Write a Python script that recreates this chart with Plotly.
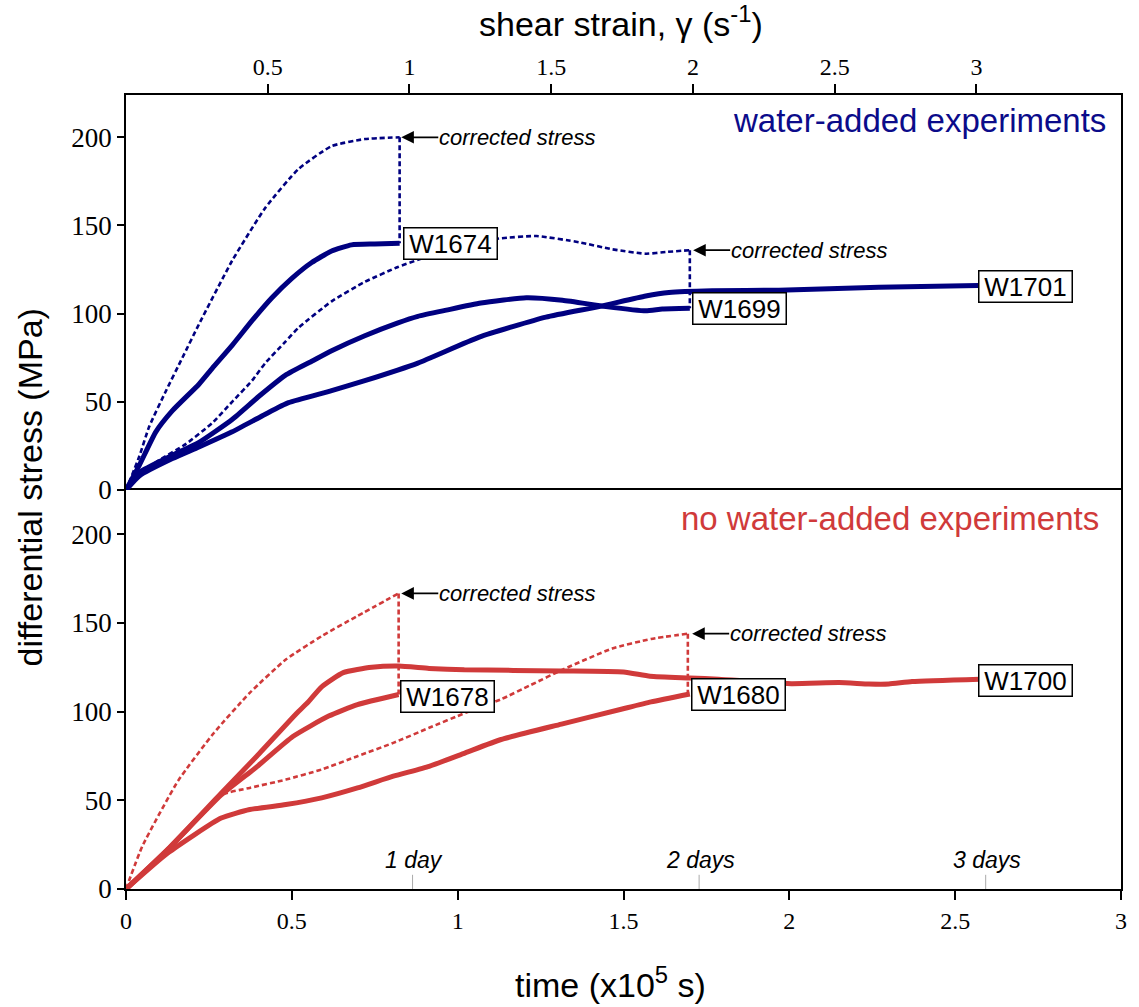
import plotly.graph_objects as go

# ---------------- data (time in 1e5 s, stress in MPa) ----------------
# water-added experiments (top panel)
t_w1674 = [0, 0.04, 0.09, 0.14, 0.22, 0.26, 0.32, 0.38, 0.44, 0.50, 0.56, 0.62, 0.68, 0.75, 0.825]
s_w1674 = [0, 14, 33, 45, 60, 69, 82, 96, 109, 120, 129, 135.5, 139, 139.5, 140]

t_w1674_corr = [0, 0.04, 0.07, 0.12, 0.17, 0.22, 0.32, 0.42, 0.52, 0.62, 0.72, 0.825, 0.825]
s_w1674_corr = [0, 19, 36, 56, 75, 94, 130, 160, 182, 195, 199, 200, 140]

t_w1699 = [0, 0.04, 0.14, 0.22, 0.32, 0.40, 0.48, 0.56, 0.62, 0.72, 0.82, 0.88, 0.966, 1.07, 1.207, 1.316, 1.447, 1.567, 1.617, 1.70]
s_w1699 = [0, 10, 19.7, 27, 40, 53, 65, 73, 79, 87.5, 94.8, 98.5, 102, 106, 109, 107.6, 104, 101.6, 102.6, 103]

t_w1699_corr = [0, 0.04, 0.10, 0.18, 0.26, 0.32, 0.38, 0.42, 0.48, 0.52, 0.62, 0.72, 0.82, 0.88, 1.00, 1.125,
                1.237, 1.366, 1.466, 1.567, 1.63, 1.70, 1.70]
s_w1699_corr = [0, 9, 17, 26, 38, 50, 62, 72, 84, 92, 107, 118, 126.5, 130.5, 138, 142.6,
                144, 140.5, 136.5, 134, 135, 136, 103]

t_w1701 = [0, 0.04, 0.14, 0.22, 0.32, 0.42, 0.49, 0.62, 0.72, 0.88, 1.065, 1.266, 1.426, 1.567, 1.637, 1.767, 1.968, 2.27, 2.57]
s_w1701 = [0, 8, 17.8, 24.4, 33, 43, 49.5, 56.3, 62, 72, 86.7, 98, 104, 110, 112, 113, 113.3, 115, 116]

# no water-added experiments (bottom panel)
t_w1700 = [0, 0.124, 0.287, 0.395, 0.514, 0.547, 0.59, 0.655, 0.741, 0.822, 0.914, 1.02, 1.313, 1.5, 1.58,
           1.70, 1.787, 2.006, 2.15, 2.24, 2.30, 2.37, 2.575]
s_w1700 = [0, 22, 54, 75, 99, 105, 114, 122, 125, 125.7, 124.4, 123.6, 123, 122.4, 120,
           119, 118.3, 115.8, 116.4, 115.6, 115.6, 117, 118.3]

t_w1678 = [0, 0.124, 0.287, 0.395, 0.503, 0.611, 0.698, 0.822]
s_w1678 = [0, 22, 53, 69, 86, 97.5, 104, 109.7]

t_w1678_corr = [0, 0.049, 0.157, 0.265, 0.373, 0.482, 0.59, 0.698, 0.822, 0.822]
s_w1678_corr = [0, 24, 61, 88, 110.6, 129.4, 142.6, 154, 166.7, 109.7]

t_w1680 = [0, 0.124, 0.287, 0.373, 0.482, 0.59, 0.698, 0.806, 0.914, 1.023, 1.131, 1.313, 1.496, 1.583, 1.70]
s_w1680 = [0, 20, 40, 44.8, 47.6, 51.4, 57, 63.6, 69.2, 76.8, 84.3, 93, 101.5, 105.5, 110]

t_w1680_corr = [0, 0.124, 0.287, 0.373, 0.482, 0.59, 0.698, 0.806, 0.914, 1.023, 1.131, 1.22, 1.32, 1.466,
                1.583, 1.694, 1.694]
s_w1680_corr = [0, 22, 53, 57, 61.7, 67.4, 74.9, 82.4, 90.9, 99.3, 107, 115, 124, 135.6,
                141, 144, 110]

# labels
labels_top = ["W1674", "W1699", "W1701"]
labels_top_xy = [(0.834, 140), (1.706, 103), (2.57, 115.6)]
labels_bot = ["W1678", "W1680", "W1700"]
labels_bot_xy = [(0.825, 108.5), (1.703, 109.6), (2.57, 117.5)]

corr_top = [(0.83, 200), (1.71, 136)]
corr_bot = [(0.83, 166.7), (1.707, 144)]
corr_text = "corrected stress"

day_pos = [0.864, 1.728, 2.592]
day_text = ["1 day", "2 days", "3 days"]

x_ticks = [0, 0.5, 1, 1.5, 2, 2.5, 3]
x_ticktext = ["0", "0.5", "1", "1.5", "2", "2.5", "3"]
strain_ticks = [0.5, 1, 1.5, 2, 2.5, 3]
strain_ticktext = ["0.5", "1", "1.5", "2", "2.5", "3"]
y_ticks = [0, 50, 100, 150, 200]
y_ticktext = ["0", "50", "100", "150", "200"]

# ---------------- styling ----------------
BLUE = "#000080"
RED = "#d03a3a"
SANS = "Liberation Sans, Arial, sans-serif"
SERIF = "Liberation Serif, Times New Roman, serif"
SOLID_W = 5
DASH_W = 2.6
DASH = "5px,3px"

fig = go.Figure()


def add_line(t, s, color, yaxis, dashed):
    style = dict(color=color, width=DASH_W if dashed else SOLID_W,
                 dash=DASH if dashed else "solid")
    if dashed:
        # smooth curve part, then the straight vertical correction drop
        fig.add_trace(go.Scatter(x=t[:-1], y=s[:-1], mode="lines", xaxis="x", yaxis=yaxis,
                                 line=dict(shape="spline", smoothing=0.5, **style),
                                 showlegend=False, hoverinfo="skip"))
        fig.add_trace(go.Scatter(x=t[-2:], y=s[-2:], mode="lines", xaxis="x", yaxis=yaxis,
                                 line=dict(shape="linear", **style),
                                 showlegend=False, hoverinfo="skip"))
    else:
        fig.add_trace(go.Scatter(x=t, y=s, mode="lines", xaxis="x", yaxis=yaxis,
                                 line=dict(shape="spline", smoothing=0.5, **style),
                                 showlegend=False, hoverinfo="skip"))


add_line(t_w1674_corr, s_w1674_corr, BLUE, "y2", True)
add_line(t_w1699_corr, s_w1699_corr, BLUE, "y2", True)
add_line(t_w1674, s_w1674, BLUE, "y2", False)
add_line(t_w1699, s_w1699, BLUE, "y2", False)
add_line(t_w1701, s_w1701, BLUE, "y2", False)

add_line(t_w1678_corr, s_w1678_corr, RED, "y", True)
add_line(t_w1680_corr, s_w1680_corr, RED, "y", True)
add_line(t_w1700, s_w1700, RED, "y", False)
add_line(t_w1678, s_w1678, RED, "y", False)
add_line(t_w1680, s_w1680, RED, "y", False)

# invisible trace so the top shear-strain axis is drawn
fig.add_trace(go.Scatter(x=[strain_ticks[0]], y=[0], xaxis="x2", yaxis="y2", mode="markers",
                         marker=dict(opacity=0, size=1), showlegend=False, hoverinfo="skip"))

annotations = []
for refy, labs, xys in (("y2", labels_top, labels_top_xy), ("y", labels_bot, labels_bot_xy)):
    for txt, (x, y) in zip(labs, xys):
        annotations.append(dict(x=x, y=y, xref="x", yref=refy, text=txt, showarrow=False,
                                xanchor="left", yanchor="middle", bgcolor="white",
                                bordercolor="black", borderwidth=1.5, borderpad=2,
                                width=88, height=26, font=dict(family=SANS, size=26, color="black")))

# "corrected stress" text with a short arrow pointing left to the corrected value
for yref, pts in (("y2", corr_top), ("y", corr_bot)):
    for (x, y) in pts:
        annotations.append(dict(x=x, y=y, xref="x", yref=yref, text="<i>" + corr_text + "</i>",
                                showarrow=True, ax=37 + 79, ay=0, arrowhead=2, arrowsize=1.4,
                                arrowwidth=1.8, arrowcolor="black", standoff=0, borderpad=0,
                                font=dict(family=SANS, size=22, color="black")))

for xp, txt in zip(day_pos, day_text):
    annotations.append(dict(x=xp + 0.005, y=16.4, xref="x", yref="y", text="<i>" + txt + "</i>",
                            showarrow=False, xanchor="center", yanchor="middle",
                            font=dict(family=SANS, size=23, color="black")))

annotations.append(dict(x=2.961, y=209.3, xref="x", yref="y2", text="water-added experiments",
                        showarrow=False, xanchor="right", yanchor="middle",
                        font=dict(family=SANS, size=33, color="#0b0b8a")))
annotations.append(dict(x=2.940, y=208.7, xref="x", yref="y", text="no water-added experiments",
                        showarrow=False, xanchor="right", yanchor="middle",
                        font=dict(family=SANS, size=33, color=RED)))

annotations.append(dict(x=-0.0965, y=0.5057, xref="paper", yref="paper",
                        text="differential stress (MPa)", textangle=-90, showarrow=False,
                        xanchor="center", yanchor="middle",
                        font=dict(family=SANS, size=34, color="black")))
annotations.append(dict(x=0.4874, y=-0.118, xref="paper", yref="paper",
                        text="time (x10<sup>5</sup> s)", showarrow=False,
                        xanchor="center", yanchor="middle",
                        font=dict(family=SANS, size=34, color="black")))
annotations.append(dict(x=0.497, y=1.093, xref="paper", yref="paper",
                        text="shear strain, γ (s<sup>-1</sup>)", showarrow=False,
                        xanchor="center", yanchor="middle",
                        font=dict(family=SANS, size=34, color="black")))

shapes = []
for xp in day_pos:
    shapes.append(dict(type="line", xref="x", yref="y", x0=xp, x1=xp, y0=0, y1=8,
                       line=dict(color="#aaaaaa", width=1)))

axis_common = dict(showgrid=False, zeroline=False, showline=True, linecolor="black",
                   linewidth=1.5, ticks="outside", tickcolor="black", tickwidth=1.5)

split = 399 / 794

fig.update_layout(
    width=1139, height=1007,
    margin=dict(l=126, r=18, t=95, b=118),
    paper_bgcolor="white", plot_bgcolor="white",
    showlegend=False,
    xaxis=dict(domain=[0, 1], range=[0, 3], anchor="y", tickvals=x_ticks, ticktext=x_ticktext,
               ticklen=9, mirror=True, tickfont=dict(family=SERIF, size=24, color="black"),
               **axis_common),
    xaxis2=dict(overlaying="x", side="top", anchor="y2", range=[0, 3.51],
                tickvals=strain_ticks, ticktext=strain_ticktext, ticklen=9,
                tickfont=dict(family=SERIF, size=24, color="black"), **axis_common),
    yaxis=dict(domain=[0, split], range=[0, 225], anchor="x", tickvals=y_ticks,
               ticktext=y_ticktext, ticklen=7, mirror=True,
               tickfont=dict(family=SERIF, size=27, color="black"), **axis_common),
    yaxis2=dict(domain=[split, 1], range=[0, 224], anchor="x", tickvals=y_ticks,
                ticktext=y_ticktext, ticklen=7, mirror=True,
                tickfont=dict(family=SERIF, size=27, color="black"), **axis_common),
    annotations=annotations,
    shapes=shapes,
)

fig.write_html("out.html")
